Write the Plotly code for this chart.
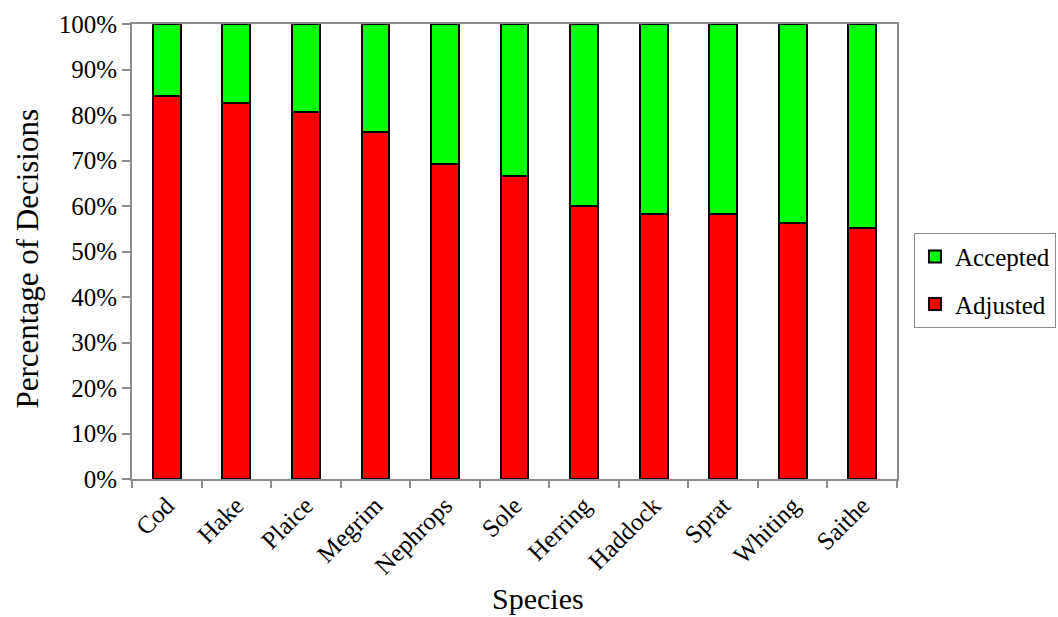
import plotly.graph_objects as go

# Share of management decisions by species (percent)
species = ["Cod", "Hake", "Plaice", "Megrim", "Nephrops", "Sole",
           "Herring", "Haddock", "Sprat", "Whiting", "Saithe"]
adjusted = [84.2, 82.6, 80.6, 76.3, 69.2, 66.7, 60.0, 58.2, 58.2, 56.3, 55.1]
accepted = [round(100 - a, 1) for a in adjusted]

FONT = "Liberation Serif, Times New Roman, serif"
AXIS_GREY = "#8c8c8c"

fig = go.Figure()
fig.add_trace(go.Bar(
    x=species, y=adjusted, name="Adjusted", legendgroup="adj", legendrank=2,
    marker=dict(color="#ff0000", line=dict(color="black", width=2)),
))
fig.add_trace(go.Bar(
    x=species, y=accepted, name="Accepted", legendgroup="acc", legendrank=1,
    marker=dict(color="#00ff00", line=dict(color="black", width=2)),
))

fig.update_layout(
    width=1058, height=617,
    margin=dict(l=132, r=161, t=24, b=138, autoexpand=False),
    barmode="stack",
    bargap=0.6,
    plot_bgcolor="white",
    paper_bgcolor="white",
    font=dict(family=FONT, size=25, color="black"),
    showlegend=True,
    legend=dict(
        traceorder="grouped",
        x=1.2078, y=0.437, xanchor="right", yanchor="middle",
        bordercolor=AXIS_GREY, borderwidth=1, bgcolor="white",
        font=dict(family=FONT, size=25),
        itemwidth=30,
        tracegroupgap=12,
    ),
    xaxis=dict(
        tickangle=-45,
        tickson="boundaries",
        ticks="outside", ticklen=7, tickcolor=AXIS_GREY, tickwidth=1.5,
        showline=True, linecolor=AXIS_GREY, linewidth=2, mirror=True,
        showgrid=False,
        tickfont=dict(size=25),
    ),
    yaxis=dict(
        range=[0, 100], dtick=10, ticksuffix="%",
        ticks="outside", ticklen=8, tickcolor=AXIS_GREY, tickwidth=1.5,
        showline=True, linecolor=AXIS_GREY, linewidth=2, mirror=True,
        showgrid=False, zeroline=False,
        tickfont=dict(size=25),
    ),
    annotations=[
        dict(text="Species", xref="paper", yref="paper",
             x=0.531, y=-0.2637, xanchor="center", yanchor="middle",
             showarrow=False, font=dict(family=FONT, size=30)),
        dict(text="Percentage of Decisions", xref="paper", yref="paper",
             x=-0.137, y=0.485, xanchor="center", yanchor="middle",
             textangle=-90, showarrow=False, font=dict(family=FONT, size=31)),
    ],
)

fig.write_html("out.html")
